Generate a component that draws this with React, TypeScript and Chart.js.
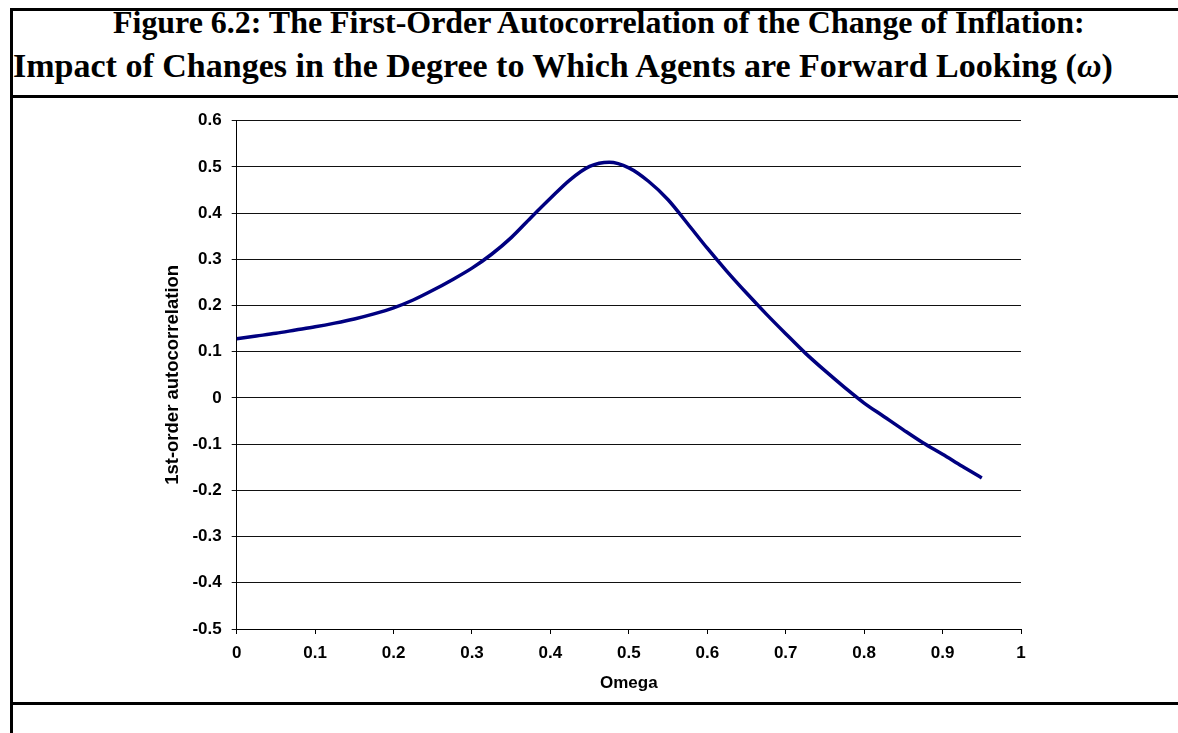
import React, { useEffect, useLayoutEffect, useRef } from 'react';
import { Chart, registerables } from 'chart.js';

Chart.register(...registerables);

// ---- Data ----
const omegaValues = [
  0, 0.025, 0.05, 0.075, 0.1, 0.125, 0.15, 0.175, 0.2, 0.225,
  0.25, 0.275, 0.3, 0.325, 0.35, 0.375, 0.4, 0.425, 0.45, 0.475,
  0.5, 0.525, 0.55, 0.575, 0.6, 0.625, 0.65, 0.675, 0.7, 0.725,
  0.75, 0.775, 0.8, 0.825, 0.85, 0.875, 0.9, 0.925, 0.95,
];
const autocorrValues = [
  0.128, 0.134, 0.140, 0.147, 0.154, 0.162, 0.171, 0.182, 0.195, 0.212,
  0.233, 0.256, 0.281, 0.311, 0.347, 0.390, 0.432, 0.472, 0.501, 0.510,
  0.498, 0.469, 0.429, 0.377, 0.324, 0.274, 0.227, 0.182, 0.139, 0.097,
  0.059, 0.023, -0.011, -0.040, -0.069, -0.097, -0.122, -0.148, -0.173,
];
const xTickValues = [0, 0.1, 0.2, 0.3, 0.4, 0.5, 0.6, 0.7, 0.8, 0.9, 1];
const yTickValues = [-0.5, -0.4, -0.3, -0.2, -0.1, 0, 0.1, 0.2, 0.3, 0.4, 0.5, 0.6];

const titleLine1 = 'Figure 6.2: The First-Order Autocorrelation of the Change of Inflation:';
const titleLine2 = 'Impact of Changes in the Degree to Which Agents are Forward Looking (';
const titleOmega = 'ω';
const xAxisTitle = 'Omega';
const yAxisTitle = '1st-order autocorrelation';

// ---- Layout ----
const CANVAS_LEFT = 0;
const CANVAS_TOP = 100;
const CANVAS_W = 1100;
const CANVAS_H = 600;
const PLOT_LEFT = 236.7;
const PLOT_RIGHT = 1021;
const PLOT_TOP = 120.7;
const PLOT_BOTTOM = 629;

const fmt = (v: number) => String(Math.round(v * 10) / 10);

const tickFont = { family: '"Liberation Sans", Arial, sans-serif', size: 17, weight: 'bold' as const };
const xTitleFont = { family: '"Liberation Sans", Arial, sans-serif', size: 17, weight: 'bold' as const };
const yTitleFont = { family: '"Liberation Sans", Arial, sans-serif', size: 18.5, weight: 'bold' as const };

function FitText({ text, left, baseline, width, children }: any) {
  const ref = useRef<HTMLDivElement>(null);
  useLayoutEffect(() => {
    const el = ref.current;
    if (!el) return;
    el.style.fontSize = '30px';
    const w = el.getBoundingClientRect().width;
    const fs = (30 * width) / w;
    el.style.fontSize = fs + 'px';
    el.style.top = baseline - 0.8375 * fs + 'px';
  }, [text, left, baseline, width]);
  return (
    <div
      ref={ref}
      style={{
        position: 'absolute',
        left,
        top: 0,
        whiteSpace: 'nowrap',
        fontFamily: '"Liberation Serif", "Times New Roman", serif',
        fontWeight: 'bold',
        lineHeight: 1,
        color: '#000',
      }}
    >
      {text}
      {children}
    </div>
  );
}

export default function App() {
  const canvasRef = useRef<HTMLCanvasElement>(null);

  useEffect(() => {
    const canvas = canvasRef.current;
    if (!canvas) return;
    const chart = new Chart(canvas, {
      type: 'line',
      data: {
        datasets: [
          {
            data: omegaValues.map((x, i) => ({ x, y: autocorrValues[i] })),
            borderColor: '#000080',
            borderWidth: 3.5,
            pointRadius: 0,
            fill: false,
            cubicInterpolationMode: 'monotone',
          },
        ],
      },
      options: {
        animation: false,
        responsive: false,
        devicePixelRatio: 1,
        layout: {
          padding: {
            top: PLOT_TOP - CANVAS_TOP,
            right: CANVAS_W - (PLOT_RIGHT - CANVAS_LEFT),
            bottom: 0,
            left: 0,
          },
        },
        plugins: { legend: { display: false }, tooltip: { enabled: false } },
        scales: {
          x: {
            type: 'linear',
            min: 0,
            max: 1,
            afterBuildTicks: (s: any) => {
              s.ticks = xTickValues.map((value) => ({ value }));
            },
            afterFit: (s: any) => {
              s.height = CANVAS_TOP + CANVAS_H - PLOT_BOTTOM;
            },
            ticks: {
              font: tickFont,
              color: '#000',
              padding: 9,
              maxRotation: 0,
              autoSkip: false,
              callback: (v: any) => fmt(Number(v)),
            },
            grid: { drawOnChartArea: false, drawTicks: true, tickLength: 5, color: '#000', lineWidth: 1 },
            border: { display: true, color: '#000', width: 1 },
            title: {
              display: true,
              text: xAxisTitle,
              font: xTitleFont,
              color: '#000',
              padding: { top: 0, bottom: 6 },
            },
          },
          y: {
            type: 'linear',
            min: -0.5,
            max: 0.6,
            afterBuildTicks: (s: any) => {
              s.ticks = yTickValues.map((value) => ({ value }));
            },
            afterFit: (s: any) => {
              s.width = PLOT_LEFT - CANVAS_LEFT;
            },
            ticks: {
              font: tickFont,
              color: '#000',
              padding: 10,
              autoSkip: false,
              callback: (v: any) => fmt(Number(v)),
            },
            grid: { drawOnChartArea: true, drawTicks: true, tickLength: 5, color: '#111', lineWidth: 1 },
            border: { display: true, color: '#000', width: 1 },
            title: {
              display: true,
              text: yAxisTitle,
              font: yTitleFont,
              color: '#000',
              padding: { top: 173 - CANVAS_LEFT - 11.1, bottom: 0 },
            },
          },
        },
      },
    } as any);
    return () => chart.destroy();
  }, []);

  const line = (style: React.CSSProperties) => (
    <div style={{ position: 'absolute', background: '#000', ...style }} />
  );

  return (
    <div
      style={{
        position: 'absolute',
        left: 0,
        top: 0,
        width: 1178,
        height: 733,
        overflow: 'hidden',
        background: '#fff',
      }}
    >
      {line({ left: 10, top: 8, width: 1168, height: 2.5 })}
      {line({ left: 10, top: 95, width: 1168, height: 2.5 })}
      {line({ left: 10, top: 702, width: 1168, height: 2.5 })}
      {line({ left: 10, top: 8, width: 2.5, height: 725 })}
      <FitText text={titleLine1} left={113} baseline={34} width={972} />
      <FitText text={titleLine2} left={13} baseline={77} width={1100}>
        <i>{titleOmega}</i>)
      </FitText>
      <canvas
        ref={canvasRef}
        width={CANVAS_W}
        height={CANVAS_H}
        style={{ position: 'absolute', left: CANVAS_LEFT, top: CANVAS_TOP, width: CANVAS_W, height: CANVAS_H }}
      />
    </div>
  );
}
